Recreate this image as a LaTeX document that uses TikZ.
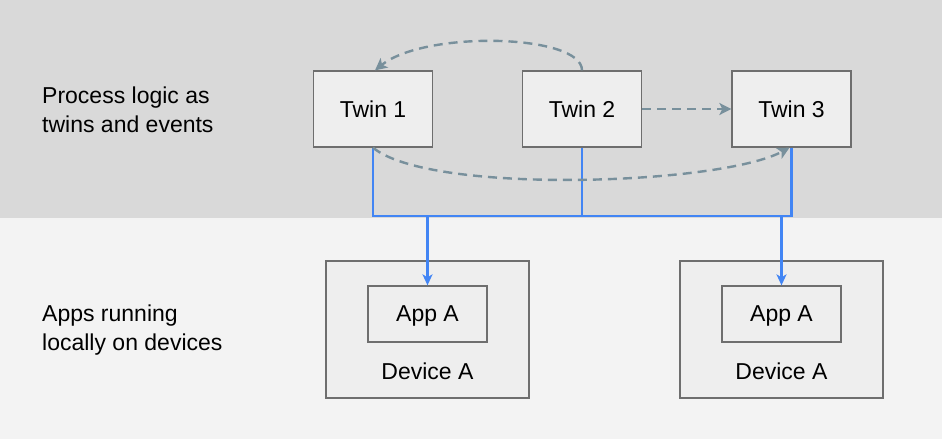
\documentclass[tikz,border=0pt]{standalone}
\usepackage{fontspec}
\setmainfont{Liberation Sans}
\usetikzlibrary{arrows.meta}
\definecolor{topbg}{HTML}{D9D9D9}
\definecolor{botbg}{HTML}{F3F3F3}
\definecolor{boxfill}{HTML}{EEEEEE}
\definecolor{boxline}{HTML}{6E6E6E}
\definecolor{flow}{HTML}{4285F4}
\definecolor{evt}{HTML}{78909C}
\begin{document}
\begin{tikzpicture}[x=1pt,y=-1pt,
  font=\fontsize{23}{28.5}\selectfont,
  twinbox/.style={draw=boxline, fill=boxfill, line width=1.3pt, minimum width=119pt, minimum height=76pt, inner sep=0pt},
  devbox/.style={draw=boxline, fill=boxfill, line width=1.3pt, minimum width=203pt, minimum height=137pt, inner sep=0pt},
  appbox/.style={draw=boxline, fill=boxfill, line width=1.3pt, minimum width=119pt, minimum height=56pt, inner sep=0pt, text depth=0pt},
  sidelabel/.style={anchor=west, align=left, inner sep=0pt},
  flowline/.style={draw=flow, line width=2.6pt},
  flowarrow/.style={draw=flow, line width=2.6pt, -{Stealth[length=11pt,width=10pt,inset=3pt]}},
  evtarrow/.style={draw=evt, line width=2.4pt, dash pattern=on 9pt off 6pt, -{Stealth[length=12pt,width=12pt,inset=3pt]}}]
\useasboundingbox (0,0) rectangle (942,439);
\fill[topbg] (0,0) rectangle (942,218);
\fill[botbg] (0,218) rectangle (942,439);

\node[sidelabel] (lab1) at (42,110) {Process logic as\\twins and events};
\node[sidelabel] (lab2) at (42,330) {Apps running\\locally on devices};

\node[twinbox] (t1) at (373,109) {Twin 1};
\node[twinbox] (t2) at (582,109) {Twin 2};
\node[twinbox] (t3) at (791.5,109) {Twin 3};

\node[devbox] (d1) at (427.5,329.5) {};
\node[appbox] (a1) at (427.5,314) {App A};
\node (d1l) at (427.5,371) {Device A};
\node[devbox] (d2) at (781.5,329.5) {};
\node[appbox] (a2) at (781.5,314) {App A};
\node (d2l) at (781.5,371) {Device A};

\coordinate (busR) at (791.5,216);
\draw[flowline] (t1.south) |- (busR) -- (t3.south);
\draw[flowline] (t2.south) -- (t2.south |- busR);
\draw[flowarrow] (a1.north |- busR) -- (a1.north);
\draw[flowarrow] (a2.north |- busR) -- (a2.north);

\draw[evtarrow] (t2.east) -- (t3.west);
\draw[evtarrow] (t2.north) .. controls (582,34) and (425,30) .. ([xshift=2pt]t1.north);
\draw[evtarrow] (t1.south) .. controls (430,195) and (720,185) .. ([xshift=-2pt]t3.south);
\end{tikzpicture}
\end{document}
